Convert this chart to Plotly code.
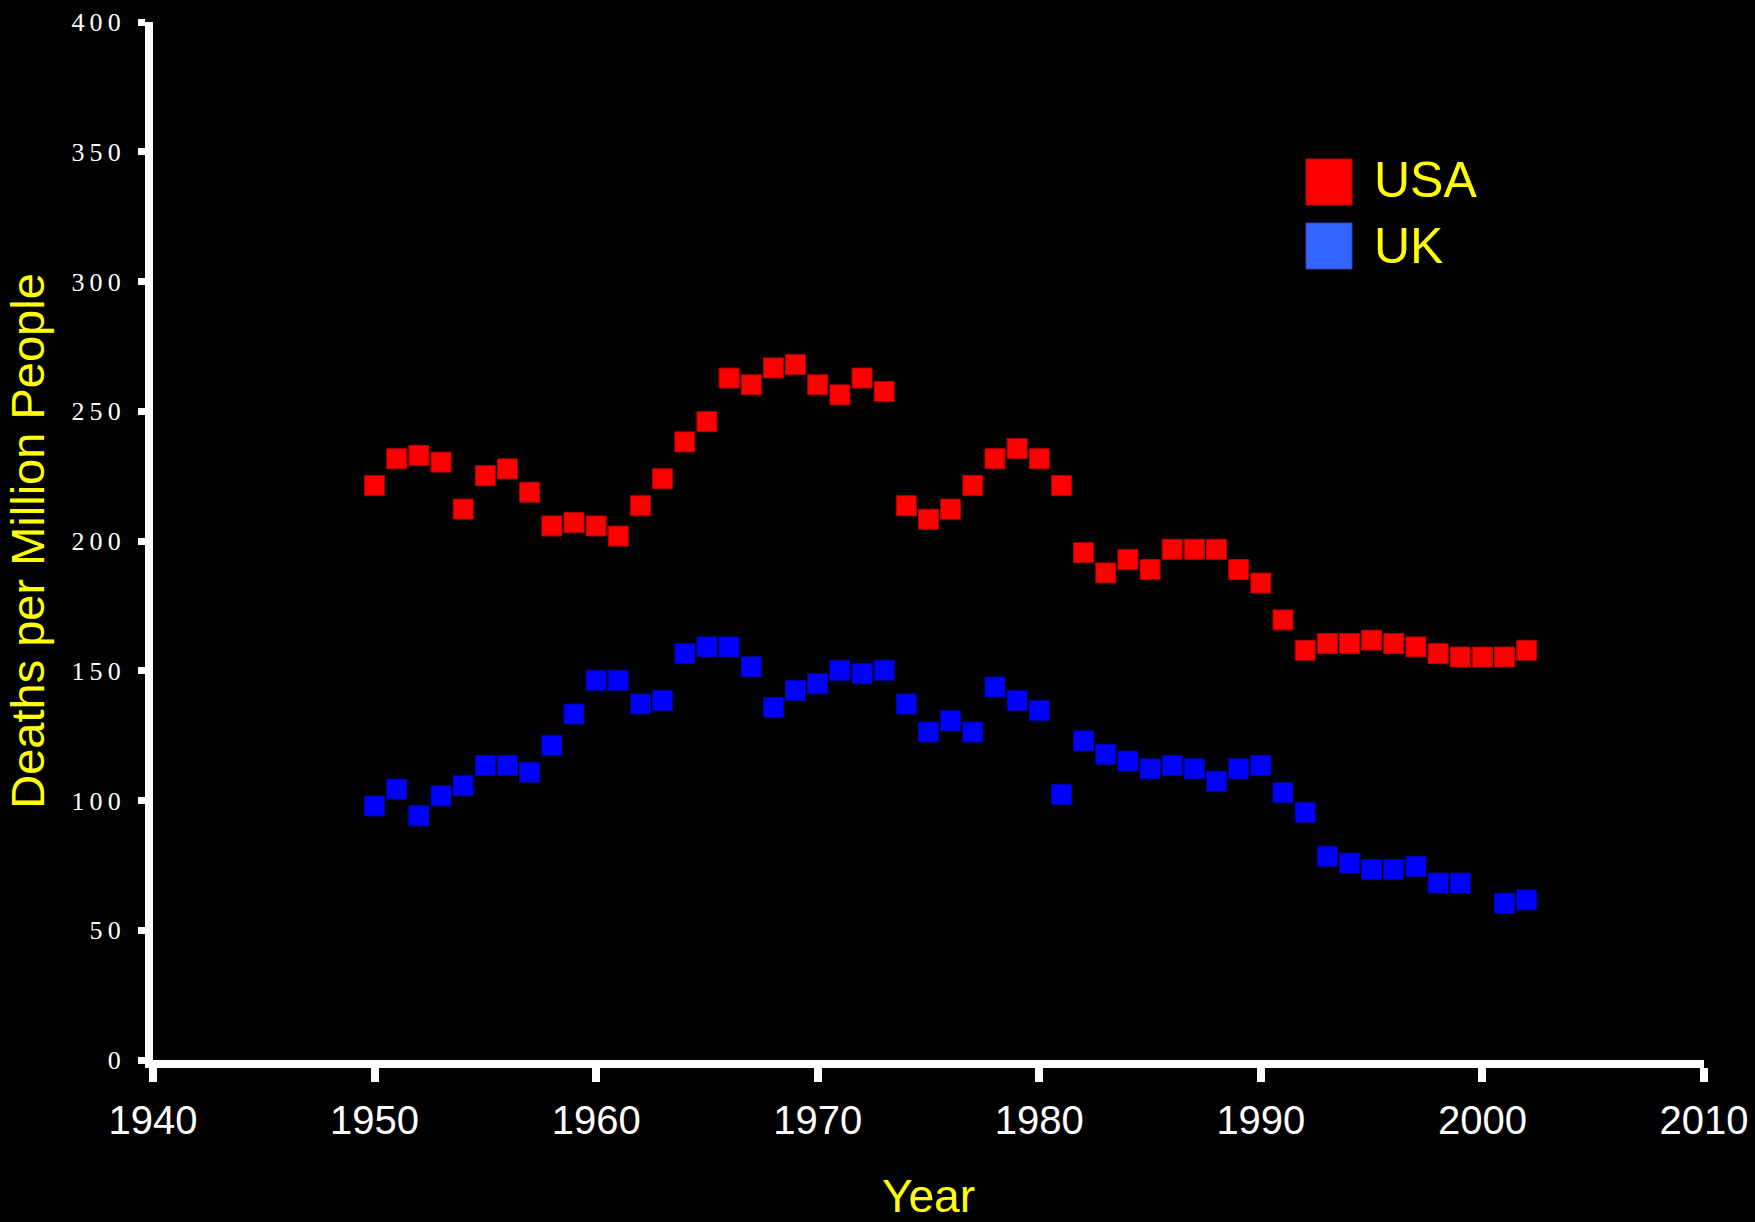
import plotly.graph_objects as go

years = list(range(1950, 2003))

usa = [221.4, 231.7, 233.0, 230.4, 212.3, 225.2, 227.8, 218.8, 205.8, 207.1,
       205.8, 201.9, 213.6, 224.0, 238.2, 246.0, 262.8, 260.2, 266.7, 268.0,
       260.2, 256.3, 262.8, 257.6, 213.6, 208.4, 212.3, 221.4, 231.7, 235.6,
       231.7, 221.4, 195.5, 187.7, 192.9, 189.0, 196.8, 196.8, 196.8, 189.0,
       183.8, 169.6, 157.9, 160.5, 160.5, 161.8, 160.5, 159.2, 156.6, 155.3,
       155.3, 155.3, 157.9]

uk = [97.9, 104.4, 94.1, 101.8, 105.7, 113.5, 113.5, 110.9, 121.3, 133.3,
      146.3, 146.3, 137.2, 138.5, 156.6, 159.2, 159.2, 151.5, 135.9, 142.4,
      145.0, 150.2, 148.9, 150.2, 137.2, 126.4, 130.7, 126.4, 143.7, 138.5,
      134.6, 102.3, 123.0, 117.8, 115.2, 112.2, 113.5, 112.2, 107.4, 112.2,
      113.5, 103.1, 95.4, 78.5, 75.9, 73.4, 73.4, 74.6, 68.2, 68.2,
      None, 60.4, 61.7]

y_ticks = [0, 50, 100, 150, 200, 250, 300, 350, 400]
y_ticktext = ["\u2009".join(str(v)) for v in y_ticks]
x_ticks = [1940, 1950, 1960, 1970, 1980, 1990, 2000, 2010]

series_names = ["USA", "UK"]
marker_colors = ["#FF0000", "#0000FF"]
marker_edges = ["#B00000", "#0000A8"]
legend_colors = ["#FF0000", "#3366FF"]
legend_edges = ["#C00000", "#2244BB"]

fig = go.Figure()
for name, vals, c, e in zip(series_names, [usa, uk], marker_colors, marker_edges):
    fig.add_trace(go.Scatter(
        x=years, y=vals, mode="markers", name=name, showlegend=False,
        marker=dict(symbol="square", size=20, color=c, line=dict(color=e, width=1)),
    ))

W, H = 1755, 1222
ml, mr, mt, mb = 153, 51, 22, 162
pw, ph = W - ml - mr, H - mt - mb

def px(x):
    return (x - ml) / pw

def py(y):
    return (H - mb - y) / ph

# legend drawn as paper-positioned boxes + labels
legend_rows = [(159, 205, 180), (223, 269, 246)]
for (top, bot, mid), name, c, e in zip(legend_rows, series_names, legend_colors, legend_edges):
    fig.add_shape(type="rect", xref="paper", yref="paper",
                  x0=px(1306), x1=px(1352), y0=py(bot), y1=py(top),
                  fillcolor=c, line=dict(color=e, width=1))
    fig.add_annotation(xref="paper", yref="paper", x=px(1372), y=py(mid),
                       text=name, showarrow=False, xanchor="left", yanchor="middle",
                       font=dict(family="Liberation Sans, Arial", size=50, color="#FFFF00"))

fig.update_layout(
    width=W, height=H,
    margin=dict(l=ml, r=mr, t=mt, b=mb, autoexpand=False),
    paper_bgcolor="black", plot_bgcolor="black",
    showlegend=False,
)
fig.update_xaxes(
    range=[1940, 2010], tickvals=x_ticks, ticktext=[str(v) for v in x_ticks],
    automargin=False,
    showgrid=False, zeroline=False,
    showline=True, linecolor="white", linewidth=8,
    ticks="outside", ticklen=14, tickwidth=8, tickcolor="white",
    ticklabelstandoff=4,
    tickfont=dict(family="Liberation Sans, Arial", size=40, color="white"),
    title=dict(text="Year", standoff=58,
               font=dict(family="Liberation Sans, Arial", size=46, color="#FFFF00")),
)
fig.update_yaxes(
    range=[0, 400], tickvals=y_ticks, ticktext=y_ticktext,
    automargin=False,
    showgrid=False, zeroline=False,
    showline=True, linecolor="white", linewidth=8,
    ticks="outside", ticklen=7, tickwidth=7, tickcolor="white",
    ticklabelstandoff=12,
    tickfont=dict(family="Liberation Serif, Times New Roman", size=26, color="white"),
    title=dict(text="Deaths per Million People", standoff=15,
               font=dict(family="Liberation Sans, Arial", size=47, color="#FFFF00")),
)

fig.write_html(
    "out.html",
    config={"displayModeBar": False},
    post_script="document.body.style.margin='0';document.body.style.background='black';"
                "document.documentElement.style.background='black';",
)
